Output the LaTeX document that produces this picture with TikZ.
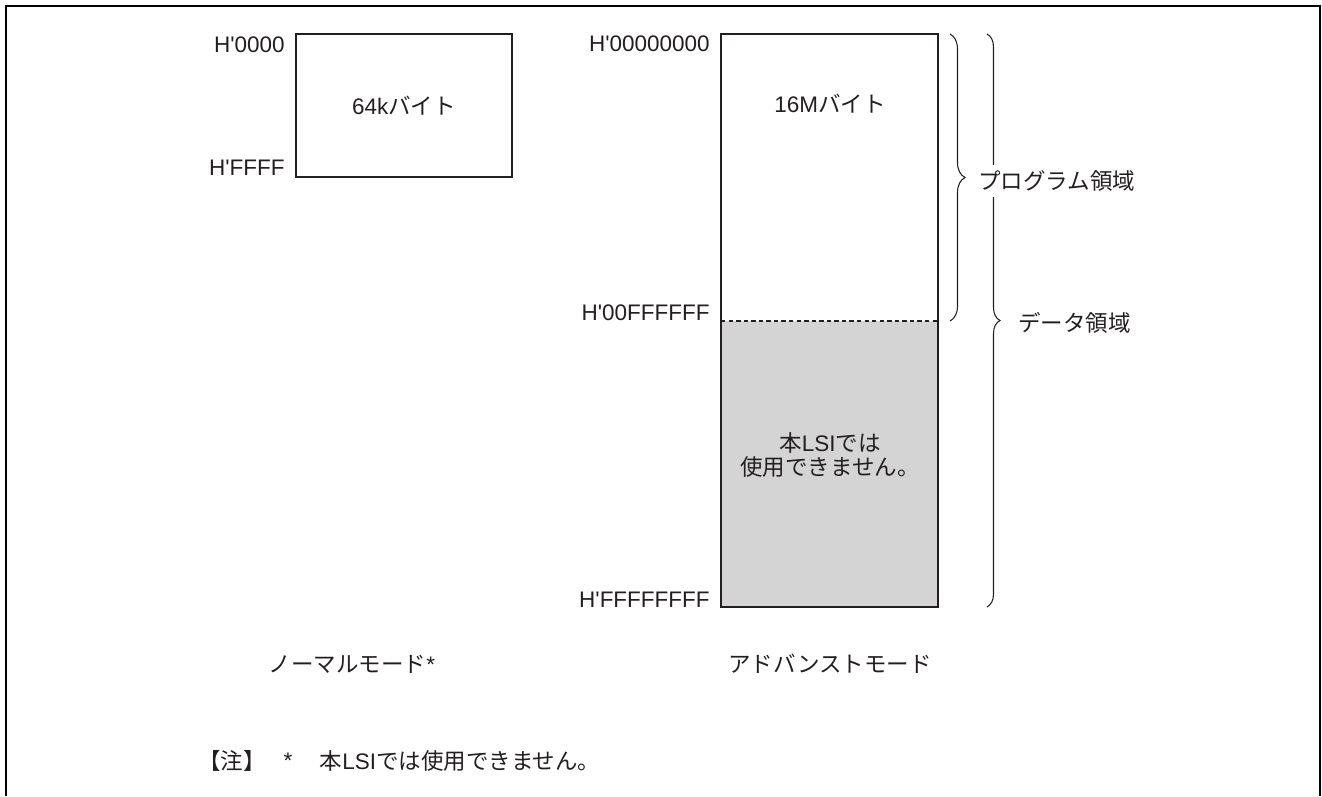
\documentclass[tikz,border=0pt]{standalone}
\usepackage{fontspec}
\setmainfont{Liberation Sans}
\newfontfamily\jp{Noto Sans CJK JP}
\usepackage{tikz}
\usetikzlibrary{positioning,calc,decorations.pathreplacing}
\definecolor{inkgray}{RGB}{35,31,32}
\definecolor{unusedgray}{RGB}{212,212,212}
\newcommand{\hx}[1]{H\textquotesingle#1}

\begin{document}
\begin{tikzpicture}[x=0.02cm, y=-0.02cm, font=\fontsize{12.8}{14.2}\selectfont, text=inkgray,
    membox/.style={draw=inkgray, line width=1.1pt},
    addr/.style={anchor=east, inner sep=0pt},
    area/.style={decorate, decoration={brace, amplitude=#1}, draw=inkgray, line width=0.6pt},
    arealabel/.style={anchor=west, inner sep=0pt}]
    \useasboundingbox (0,0) rectangle (1322,796);

    % Outer frame (open at the bottom)
    \draw[line width=1.3pt] (6,796) -- (6,6) -- (1320,6) -- (1320,796);

    % Normal mode map
    \coordinate (nTop) at (296,34);
    \coordinate (nBot) at (512,177);
    \draw[membox] (nTop) rectangle (nBot);
    \node (nsize) at ($(nTop)!0.5!(nBot)$) {64k{\jp バイト}};
    \node[addr] (n0000) at (285,45) {\hx{0000}};
    \node[addr] (nFFFF) at (285,168) {\hx{FFFF}};

    % Advanced mode map
    \coordinate (aTop) at (721,34);
    \coordinate (aMidL) at (721,321);
    \coordinate (aMidR) at (938,321);
    \coordinate (aBot) at (938,607);
    \fill[unusedgray] (aMidL) rectangle (aBot);
    \draw[membox] (aTop) rectangle (aBot);
    \draw[draw=inkgray, line width=0.6pt, dash pattern=on 2.5pt off 1.8pt] (aMidL) -- (aMidR);
    \node (asize) at (830,104) {16M{\jp バイト}};
    \node[align=center] (unused) at (830,455) {{\jp 本}LSI{\jp では}\\{\jp 使用できません。}};
    \node[addr] (a0) at (710,44) {\hx{00000000}};
    \node[addr] (a1) at (710,313) {\hx{00FFFFFF}};
    \node[addr] (a2) at (710,600) {\hx{FFFFFFFF}};

    % Areas
    \draw[area=0.26cm] (987,34) -- (987,607);
    \draw[area=0.3cm] (950,34) -- (950,321);
    \node[arealabel, fill=white, inner ysep=3pt] (prog) at (978,181) {\jp プログラム領域};
    \node[arealabel] (data) at (1018,323) {\jp データ領域};

    % Mode names
    \node (normal) at (352,664) {{\jp ノーマルモード}*};
    \node (advanced) at (830,664) {\jp アドバンストモード};

    % Note
    \node[arealabel] (note) at (198,761) {\jp 【注】};
    \node[arealabel, right=0.34cm of note] (star) {*};
    \node[arealabel, right=0.54cm of star] (notetext) {{\jp 本}LSI{\jp では使用できません。}};
\end{tikzpicture}
\end{document}
